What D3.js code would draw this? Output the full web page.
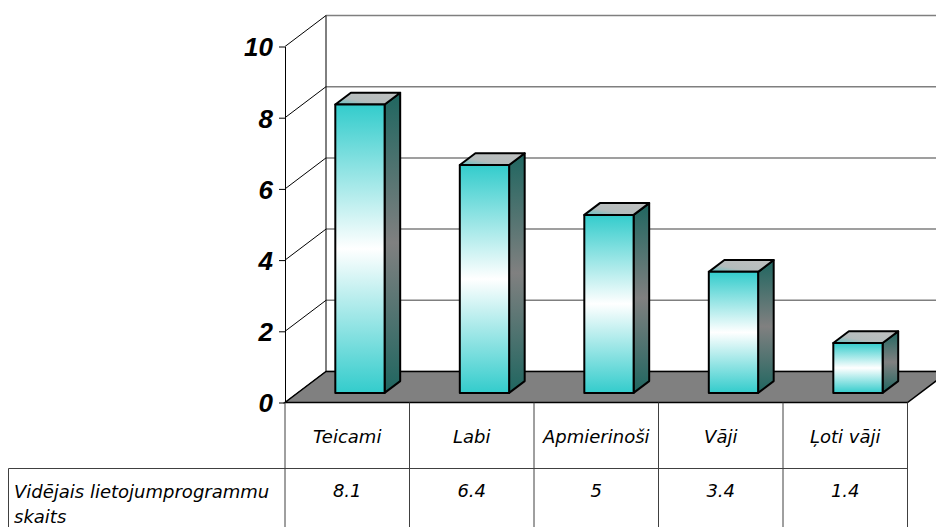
<!DOCTYPE html>
<html>
<head>
<meta charset="utf-8">
<script src="https://cdn.jsdelivr.net/npm/d3@7"></script>
<style>
  html, body { margin: 0; padding: 0; background: #fff; }
  svg { display: block; }
</style>
</head>
<body>
<svg id="chart" width="936" height="527"></svg>
<script>
// Average number of applications used, by assessment grade
const categories = ["Teicami", "Labi", "Apmierinoši", "Vāji", "Ļoti vāji"];
const values = [8.1, 6.4, 5, 3.4, 1.4];
const valueLabels = ["8.1", "6.4", "5", "3.4", "1.4"];
const seriesName = ["Vidējais lietojumprogrammu", "skaits"];
const yTicks = [0, 2, 4, 6, 8, 10];

const W = 936, H = 527;
const svg = d3.select("#chart");

// plot frame (front plane)
const plotLeft = 285, plotRight = 907.5, plotTop = 46.5, plotBase = 402.5;
// oblique depth of the 3D box
const DX = 41, DY = -31;
// bars occupy the middle slice of the depth
const f0 = 0.31, f1 = 0.69;

const x = d3.scaleBand().domain(categories).range([plotLeft, plotRight]).paddingInner(0).paddingOuter(0);
const y = d3.scaleLinear().domain([0, 10]).range([plotBase, plotTop]);
const barW = x.bandwidth() * 0.396;

const defs = svg.append("defs");
function vGrad(id, stops) {
  const gr = defs.append("linearGradient").attr("id", id)
    .attr("x1", 0).attr("y1", 0).attr("x2", 0).attr("y2", 1);
  stops.forEach(s => gr.append("stop").attr("offset", s[0]).attr("stop-color", s[1]));
}
vGrad("gFront", [[0, "#33cccc"], [0.5, "#ffffff"], [1, "#33cccc"]]);
vGrad("gSide", [[0, "#1f6660"], [0.5, "#808080"], [1, "#1f6660"]]);
const gt = defs.append("linearGradient").attr("id", "gTop")
  .attr("x1", 0).attr("y1", 1).attr("x2", 1).attr("y2", 0);
gt.append("stop").attr("offset", 0).attr("stop-color", "#5fc4c4");
gt.append("stop").attr("offset", 0.35).attr("stop-color", "#b4bcbc");
gt.append("stop").attr("offset", 1).attr("stop-color", "#c0c0c0");

const g = svg.append("g");

// back wall gridlines
g.selectAll("line.grid").data(yTicks).join("line")
  .attr("class", "grid")
  .attr("x1", plotLeft + DX).attr("x2", W + 20)
  .attr("y1", d => y(d) + DY).attr("y2", d => y(d) + DY)
  .attr("stroke", "#7f7f7f").attr("stroke-width", 1.5);

// left wall: back edge and tick connectors
g.append("line")
  .attr("x1", plotLeft + DX).attr("x2", plotLeft + DX)
  .attr("y1", y(10) + DY).attr("y2", y(0) + DY)
  .attr("stroke", "#000").attr("stroke-width", 1);
g.selectAll("line.side").data(yTicks).join("line")
  .attr("class", "side")
  .attr("x1", plotLeft).attr("y1", d => y(d))
  .attr("x2", plotLeft + DX).attr("y2", d => y(d) + DY)
  .attr("stroke", "#000").attr("stroke-width", 1);

// floor
const floorPts = [[plotLeft, plotBase], [plotRight, plotBase], [plotRight + DX, plotBase + DY], [plotLeft + DX, plotBase + DY]];
g.append("polygon")
  .attr("points", floorPts.map(p => p.join(",")).join(" "))
  .attr("fill", "#808080").attr("stroke", "#000").attr("stroke-width", 1.5);

// y axis
const axis = d3.axisLeft(y).tickValues(yTicks).tickSize(6).tickSizeOuter(0).tickPadding(6)
  .tickFormat(d3.format("d"));
const ag = svg.append("g").attr("transform", `translate(${plotLeft},0)`).call(axis);
ag.select(".domain").attr("stroke", "#000").attr("stroke-width", 1);
ag.selectAll(".tick line").attr("stroke", "#000");
ag.selectAll(".tick text")
  .attr("font-family", "'Liberation Sans', Arial, sans-serif")
  .attr("font-size", 26).attr("font-weight", "bold").attr("font-style", "italic")
  .attr("fill", "#000").attr("dy", "0.36em");

// 3D bars
const bars = g.selectAll("g.bar").data(values.map((v, i) => ({ c: categories[i], v })))
  .join("g").attr("class", "bar");

function P(px, py, f) { return [px + f * DX, py + f * DY]; }
function poly(sel, pts) { sel.attr("points", pts.map(p => p.join(",")).join(" ")); }

bars.each(function (d) {
  const b = d3.select(this);
  const x0 = x(d.c) + (x.bandwidth() - barW) / 2, x1 = x0 + barW;
  const yt = y(d.v), yb = y(0);
  const front = [P(x0, yt, f0), P(x1, yt, f0), P(x1, yb, f0), P(x0, yb, f0)];
  const side = [P(x1, yt, f0), P(x1, yt, f1), P(x1, yb, f1), P(x1, yb, f0)];
  const topF = [P(x0, yt, f0), P(x0, yt, f1), P(x1, yt, f1), P(x1, yt, f0)];
  b.append("polygon").call(poly, side).attr("fill", "url(#gSide)")
    .attr("stroke", "#000").attr("stroke-width", 2).attr("stroke-linejoin", "round");
  b.append("polygon").call(poly, topF).attr("fill", "url(#gTop)")
    .attr("stroke", "#000").attr("stroke-width", 2).attr("stroke-linejoin", "round");
  b.append("polygon").call(poly, front).attr("fill", "url(#gFront)")
    .attr("stroke", "#000").attr("stroke-width", 2).attr("stroke-linejoin", "round");
});

// data table under the plot
const rowY = 468.5;
const tbl = svg.append("g").attr("stroke", "#404040").attr("stroke-width", 1);
const edges = categories.map(c => x(c)).concat([plotRight]);
tbl.selectAll("line.v").data(edges).join("line")
  .attr("x1", d => d).attr("x2", d => d).attr("y1", plotBase).attr("y2", H + 2);
tbl.append("line").attr("x1", 8.5).attr("x2", plotRight).attr("y1", rowY).attr("y2", rowY);
tbl.append("line").attr("x1", 8.5).attr("x2", 8.5).attr("y1", rowY).attr("y2", H + 2);

const txtFont = "'DejaVu Sans', Verdana, sans-serif";
const txtSize = 18;
svg.append("g").selectAll("text").data(categories).join("text")
  .attr("x", d => x(d) + x.bandwidth() / 2).attr("y", 443)
  .attr("text-anchor", "middle")
  .attr("font-family", txtFont).attr("font-size", txtSize).attr("font-style", "italic")
  .attr("fill", "#000").text(d => d);

svg.append("g").selectAll("text").data(valueLabels).join("text")
  .attr("x", (d, i) => x(categories[i]) + x.bandwidth() / 2).attr("y", 497)
  .attr("text-anchor", "middle")
  .attr("font-family", txtFont).attr("font-size", txtSize).attr("font-style", "italic")
  .attr("fill", "#000").text(d => d);

svg.append("g").selectAll("text").data(seriesName).join("text")
  .attr("x", 14).attr("y", (d, i) => 498 + i * 25)
  .attr("font-family", txtFont).attr("font-size", txtSize).attr("font-style", "italic")
  .attr("fill", "#000").text(d => d);
</script>
</body>
</html>
